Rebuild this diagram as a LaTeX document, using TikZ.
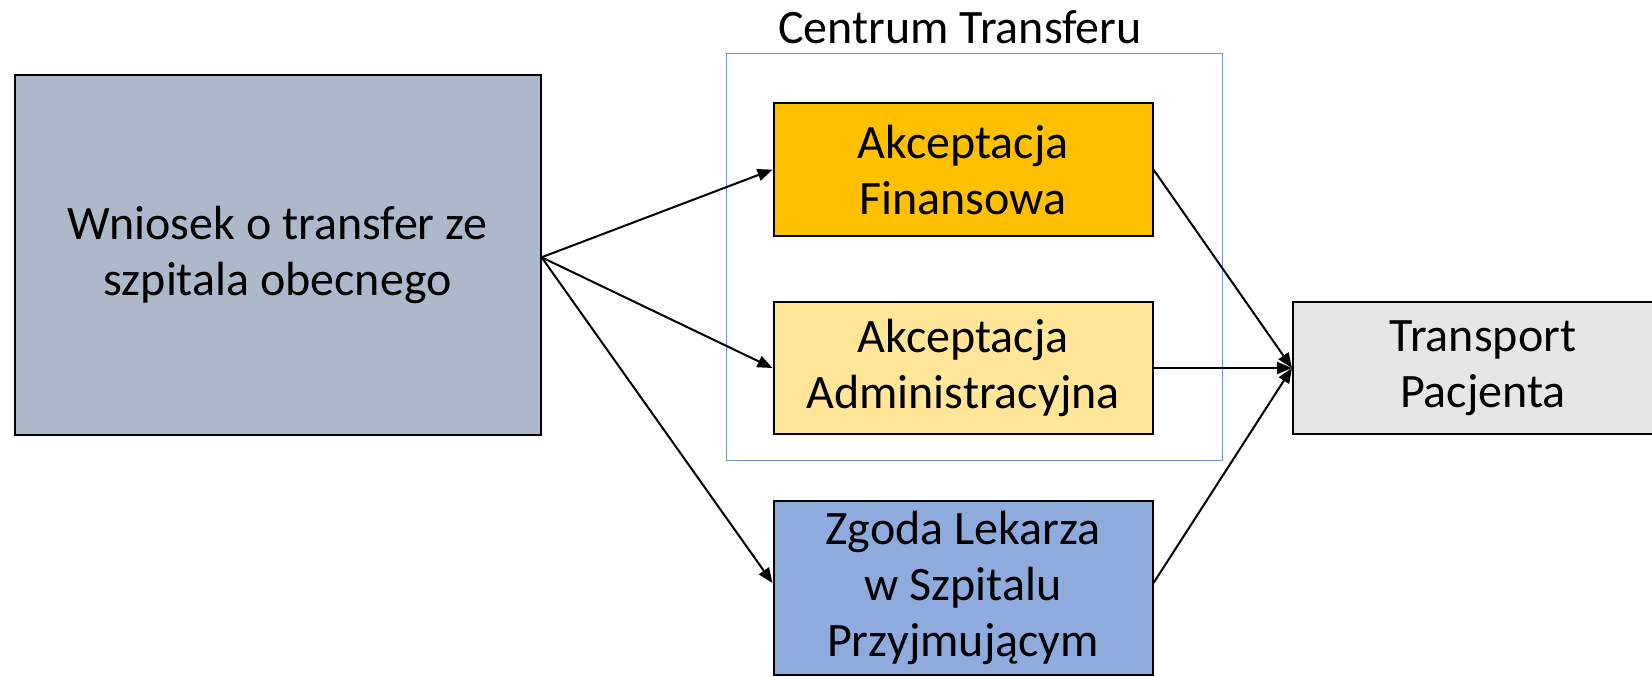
\documentclass[tikz,border=0pt]{standalone}
\usepackage{fontspec}
\setmainfont{Carlito}
\usetikzlibrary{arrows.meta}
\definecolor{greyblue}{HTML}{ADB9CA}
\definecolor{gold}{HTML}{FFC000}
\definecolor{palegold}{HTML}{FFE699}
\definecolor{softblue}{HTML}{8FAADC}
\definecolor{lightgrey}{HTML}{E7E6E6}
\definecolor{frameblue}{RGB}{114,147,212}
\tikzset{
  box/.style={draw=black, line width=1pt, align=center, inner sep=0pt,
    font=\fontsize{24}{28}\selectfont},
  flow/.style={draw=black, line width=1pt, -{Triangle[length=7.5pt,width=6pt]}},
}
\begin{document}
\begin{tikzpicture}[x=0.5pt, y=-0.5pt]
  \clip (0,0) rectangle (1652,676);
  % grouping frame and its title
  \draw[frameblue, line width=0.5pt] (726,53) rectangle (1222,460);
  \node[font=\fontsize{24}{28}\selectfont, anchor=base] (title) at (960,43) {Centrum Transferu};
  % boxes
  \node[box, fill=greyblue, minimum width=263pt, minimum height=180pt] (wn) at (277.6,255.3)
    {Wniosek o transfer ze\\szpitala obecnego};
  \node[box, fill=gold, minimum width=189.5pt, minimum height=66.2pt] (fin) at (963,169.6)
    {Akceptacja\\Finansowa};
  \node[box, fill=palegold, minimum width=189.5pt, minimum height=66.2pt] (adm) at (963,368)
    {Akceptacja\\Administracyjna};
  \node[box, fill=softblue, minimum width=189.5pt, minimum height=87pt] (zg) at (963,588)
    {Zgoda Lekarza\\w Szpitalu\\Przyjmującym};
  \node[box, fill=lightgrey, minimum width=190pt, minimum height=66.2pt] (tr) at (1483,368)
    {Transport\\Pacjenta};
  % connectors
  \draw[flow] ([yshift=-1pt]wn.east) -- (fin.west);
  \draw[flow] ([yshift=-1pt]wn.east) -- (adm.west);
  \draw[flow] ([yshift=-1pt]wn.east) -- ([yshift=2.5pt]zg.west);
  \draw[flow] (fin.east) -- (tr.west);
  \draw[flow] (adm.east) -- (tr.west);
  \draw[flow] ([yshift=2.5pt]zg.east) -- (tr.west);
\end{tikzpicture}
\end{document}
